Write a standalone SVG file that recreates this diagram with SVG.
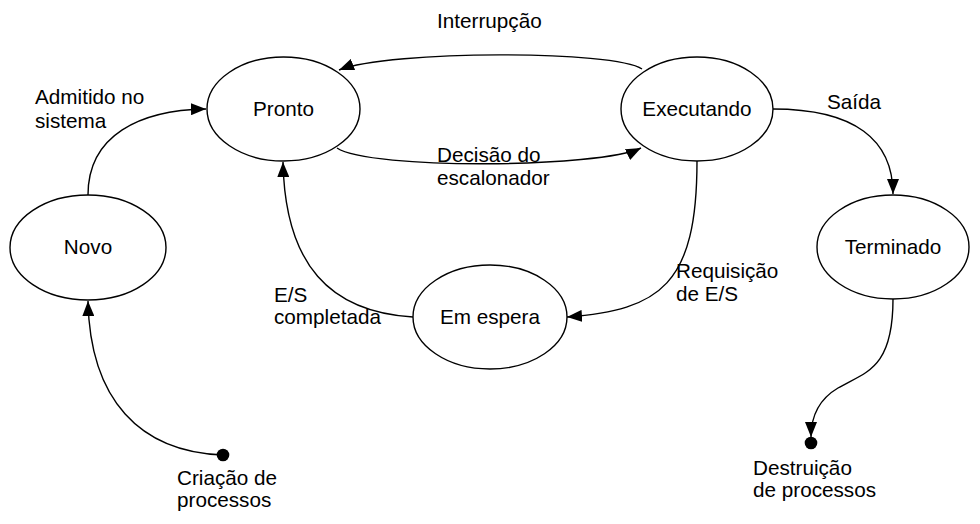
<svg xmlns="http://www.w3.org/2000/svg" width="980" height="524" viewBox="0 0 980 524">
<style>
.node ellipse{fill:#fff;stroke:#000;stroke-width:1.4}
text{font-family:"Liberation Sans",Arial,sans-serif;font-size:20.7px;fill:#000}
.c{text-anchor:middle}
.edge{fill:none;stroke:#000;stroke-width:1.4}
</style>
<defs>
<marker id="ah" markerUnits="userSpaceOnUse" markerWidth="16" markerHeight="12" refX="15" refY="6" orient="auto">
<path d="M0,0 L15,6 L0,12 Z" fill="#000"/>
</marker>
</defs>
<rect width="980" height="524" fill="#fff"/>
<g id="connectors">
<path class="edge" d="M88,195 C88,135 140,110 206,109" marker-end="url(#ah)"/>
<path class="edge" d="M642,69 C615,50 390,50 339,70" marker-end="url(#ah)"/>
<path class="edge" d="M337,148 C370,170 600,168 641,148" marker-end="url(#ah)"/>
<path class="edge" d="M773,109 C855,109 893,140 893,194" marker-end="url(#ah)"/>
<path class="edge" d="M697,161 C697,285 660,310 567,317" marker-end="url(#ah)"/>
<path class="edge" d="M413,317 C330,312 285,265 283,162" marker-end="url(#ah)"/>
<path class="edge" d="M223,455 C140,452 90,400 88,301" marker-end="url(#ah)"/>
<path class="edge" d="M893,299 C893,370 865,372 838,388 C816,401 811,420 811,437" marker-end="url(#ah)"/>
<circle cx="223" cy="455" r="6.3" fill="#000"/>
<circle cx="811" cy="443" r="6.3" fill="#000"/>
<text x="437" y="28">Interrupção</text>
<text x="35" y="104">Admitido no</text>
<text x="35" y="128">sistema</text>
<text x="437" y="162">Decisão do</text>
<text x="437" y="185">escalonador</text>
<text x="827" y="109">Saída</text>
<text x="676" y="278">Requisição</text>
<text x="676" y="301">de E/S</text>
<text x="274" y="302">E/S</text>
<text x="274" y="324">completada</text>
<text x="177" y="485">Criação de</text>
<text x="177" y="507">processos</text>
<text x="753" y="475">Destruição</text>
<text x="753" y="497">de processos</text>
</g>
<g id="pronto" class="node"><ellipse cx="283.5" cy="109" rx="76.5" ry="52"/><text class="c" x="283.5" y="116">Pronto</text></g>
<g id="executando" class="node"><ellipse cx="697" cy="109" rx="76" ry="52"/><text class="c" x="697" y="116">Executando</text></g>
<g id="terminado" class="node"><ellipse cx="893" cy="247" rx="76" ry="52"/><text class="c" x="893" y="254">Terminado</text></g>
<g id="novo" class="node"><ellipse cx="88" cy="247.5" rx="78" ry="52.5"/><text class="c" x="88" y="254">Novo</text></g>
<g id="emespera" class="node"><ellipse cx="490" cy="317" rx="77" ry="52"/><text class="c" x="490" y="324">Em espera</text></g>
</svg>
